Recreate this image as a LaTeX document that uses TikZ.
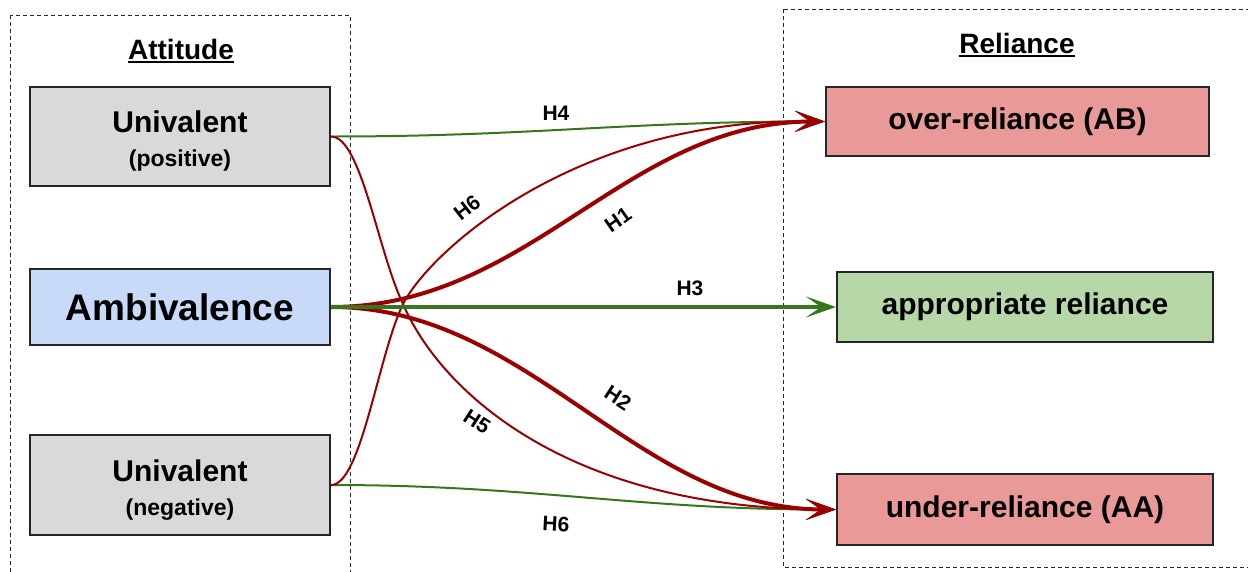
\documentclass[tikz,border=0pt]{standalone}
\usepackage{fontspec}
\setmainfont{Liberation Sans}
\usetikzlibrary{arrows.meta}
\definecolor{dred}{HTML}{990000}
\definecolor{dgreen}{HTML}{38761D}
\definecolor{gbox}{HTML}{D9D9D9}
\definecolor{bbox}{HTML}{C9DAF8}
\definecolor{rbox}{HTML}{EA9999}
\definecolor{grbox}{HTML}{B6D7A8}
\newcommand\myul[1]{\setbox0\hbox{#1}\rlap{\rule[-4pt]{\wd0}{2pt}}\box0}
\begin{document}
\begin{tikzpicture}[x=1pt,y=-1pt,
  box/.style={draw=black!85, line width=2.2pt, inner sep=0pt, align=center,
    font=\bfseries\fontsize{30}{34}\selectfont},
  frame/.style={draw=black!85, line width=1pt, dash pattern=on 4pt off 3pt},
  hdr/.style={font=\bfseries\fontsize{28}{32}\selectfont, anchor=base, inner sep=0pt},
  lbl/.style={font=\bfseries\fontsize{21}{24}\selectfont, inner sep=0pt},
  tipx/.style={-{Stealth[length=30pt,width=21pt,inset=15pt]}},
  thinc/.style={line width=2pt},
  thickc/.style={line width=4pt}
]
\useasboundingbox (0,0) rectangle (1248,571);
\clip (0,0) rectangle (1248,571);
% frames
\draw[frame] (10,15) rectangle (350,590);
\draw[frame] (783,9) rectangle (1260,567);
\node[hdr] (att) at (181,59) {\myul{Attitude}};
\node[hdr] (rel) at (1017,53) {\myul{Reliance}};
% left boxes
\node[box, fill=gbox, minimum width=300pt, minimum height=99pt] (up) at (180,136.5)
  {\rule{0pt}{31pt}Univalent\\{\fontsize{23}{26}\selectfont (positive)}};
\node[box, fill=bbox, minimum width=300pt, minimum height=76pt,
  font=\bfseries\fontsize{37}{40}\selectfont] (amb) at (180,307) {Ambivalence};
\node[box, fill=gbox, minimum width=300pt, minimum height=100pt] (un) at (180,485)
  {\rule{0pt}{31pt}Univalent\\{\fontsize{23}{26}\selectfont (negative)}};
% right boxes
\node[box, fill=rbox, minimum width=383pt, minimum height=69pt] (over) at (1017.5,121.5) {over-reliance (AB)};
\node[box, fill=grbox, minimum width=376pt, minimum height=70pt] (appr) at (1025,307) {appropriate reliance};
\node[box, fill=rbox, minimum width=376pt, minimum height=71pt] (under) at (1025,509.5) {under-reliance (AA)};
\coordinate (X) at (403,304);
% connectors
\draw[dgreen, thinc, tipx] (up.east) .. controls +(200,0) and +(-200,0) .. (over.west);
\draw[dgreen, thinc, tipx] (un.east) .. controls +(200,0) and +(-200,0) .. (under.west);
\draw[dred, thinc, tipx] (up.east) .. controls +(30,0) and (378,252) .. (X)
  .. controls (440,390) and (565,508) .. (under.west);
\draw[dred, thinc, tipx] (un.east) .. controls +(30,0) and (378,356) .. (X)
  .. controls (432,248) and (580,118) .. (over.west);
\draw[dred, thickc, tipx] (amb.east) .. controls +(200,0) and +(-200,0) .. (over.west);
\draw[dred, thickc, tipx] (amb.east) .. controls +(200,0) and +(-200,0) .. (under.west);
\draw[dgreen, thickc, tipx] (amb.east) -- (appr.west);
% labels
\node[lbl] (h4) at (556,113) {H4};
\node[lbl, rotate=38] (h6a) at (467,208) {H6};
\node[lbl, rotate=35] (h1) at (618,220) {H1};
\node[lbl] (h3) at (690,288) {H3};
\node[lbl, rotate=-33] (h2) at (618,398) {H2};
\node[lbl, rotate=-33] (h5) at (477,422) {H5};
\node[lbl, rotate=-3] (h6b) at (556,524) {H6};
\end{tikzpicture}
\end{document}
